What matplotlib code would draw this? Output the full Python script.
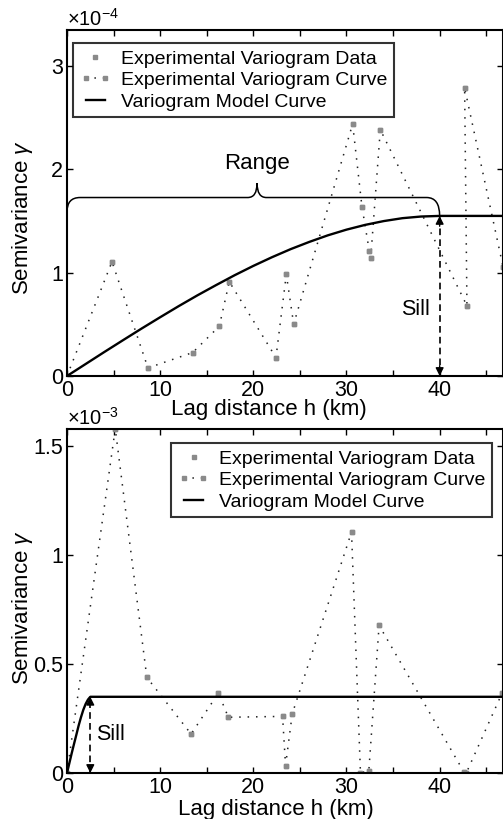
import numpy as np
import matplotlib
matplotlib.use("Agg")
import matplotlib.pyplot as plt
from matplotlib.path import Path
from matplotlib.patches import PathPatch
from matplotlib.legend_handler import HandlerLine2D
from matplotlib.ticker import MultipleLocator, FuncFormatter

plt.rcParams['font.family'] = ['Liberation Sans', 'DejaVu Sans']
plt.rcParams['mathtext.fontset'] = 'custom'
plt.rcParams['mathtext.rm'] = 'Liberation Sans'
plt.rcParams['mathtext.it'] = 'Liberation Sans:italic'

# top panel: experimental variogram (lag in km, semivariance)
lag_top = [0, 4.83, 8.69, 13.49, 16.35, 17.42, 22.43, 23.54, 24.33, 30.66,
           31.66, 32.45, 32.6, 33.63, 42.93, 42.68, 46.8]
gam_top = np.array([0, 1.107, 0.078, 0.227, 0.482, 0.913, 0.178, 0.984, 0.502,
                    2.44, 1.64, 1.21, 1.14, 2.385, 0.68, 2.79, 1.06]) * 1e-4
# top panel: model curve read along its length
model_lag_top = [0, 2, 4, 6, 8, 10, 12, 14, 16, 18, 20, 22, 24, 26, 28, 30,
                 32, 34, 36, 38, 40, 46.8]
model_gam_top = np.array([0, 0.116, 0.232, 0.346, 0.459, 0.569, 0.677, 0.781,
                          0.880, 0.976, 1.066, 1.150, 1.228, 1.298, 1.362,
                          1.417, 1.463, 1.500, 1.528, 1.544, 1.55, 1.55]) * 1e-4
sill_top = 1.55e-4
range_top = 40

# bottom panel
lag_bot = [0, 5.18, 8.57, 13.32, 16.25, 17.32, 23.14, 23.46, 24.18, 30.54,
           31.5, 32.4, 33.5, 42.6, 42.86, 46.7]
gam_bot = np.array([0, 1.581, 0.439, 0.179, 0.367, 0.256, 0.260, 0.034, 0.272,
                    1.107, 0.0, 0.011, 0.678, 0.005, 0.0, 0.367]) * 1e-3
model_lag_bot = [0, 0.25, 0.5, 0.75, 1.0, 1.25, 1.5, 1.75, 2.0, 2.25, 2.5, 46.8]
model_gam_bot = np.array([0, 0.045, 0.09, 0.133, 0.175, 0.218, 0.256, 0.29,
                          0.317, 0.337, 0.35, 0.35]) * 1e-3
sill_bot = 0.35e-3
range_bot = 2.5

labels = ['Experimental Variogram Data', 'Experimental Variogram Curve',
          'Variogram Model Curve']

W, H = 503, 819
fig = plt.figure(figsize=(W / 100, H / 100), dpi=100)
ax1 = fig.add_axes([67 / W, 1 - 376 / H, 436 / W, 346 / H])
ax2 = fig.add_axes([67 / W, 1 - 773 / H, 436 / W, 344 / H])

dot = (0, (1, 4.5))
grey = '#8a8a8a'


def draw(ax, lag, gam, mlag, mgam, scale, exp_txt):
    d, = ax.plot(lag, gam, ls='none', marker='s', ms=3.5, color=grey, mec=grey)
    c, = ax.plot(lag, gam, ls=dot, lw=1.1, color='#222222', marker='s', ms=3.5,
                 mfc=grey, mec=grey)
    m, = ax.plot(mlag, mgam, color='k', lw=1.7)
    ax.set_xlim(0, 46.8)
    ax.xaxis.set_major_locator(MultipleLocator(10))
    ax.xaxis.set_minor_locator(MultipleLocator(5))
    ax.yaxis.set_major_formatter(FuncFormatter(lambda v, p: f'{v / scale:g}'))
    ax.tick_params(which='both', direction='in', top=True, right=True,
                   length=4, width=1, labelsize=15.5, pad=3)
    for s in ax.spines.values():
        s.set_linewidth(1.5)
    ax.text(0, 1.0, exp_txt, transform=ax.transAxes, fontsize=14.5,
            ha='left', va='bottom')
    ax.set_xlabel('Lag distance h (km)', fontsize=16)
    ax.set_ylabel(r'Semivariance $\gamma$', fontsize=16)
    ax.xaxis.label.set_va('center')
    ax.yaxis.label.set_va('center')
    return d, c, m


def sill_arrow(ax, x, s, h):
    ax.plot([x, x], [0, s], color='k', lw=1.2, ls=(0, (4, 2.5)))
    ax.annotate('', xy=(x, s), xytext=(x, s - h),
                arrowprops=dict(arrowstyle='-|>', color='k', lw=1,
                                mutation_scale=12, shrinkA=0, shrinkB=0))
    ax.annotate('', xy=(x, 0), xytext=(x, h),
                arrowprops=dict(arrowstyle='-|>', color='k', lw=1,
                                mutation_scale=12, shrinkA=0, shrinkB=0))


def legend(ax, handles, **kw):
    lg = ax.legend(handles, labels, fontsize=14, frameon=True, fancybox=False,
                   handlelength=1.6, handletextpad=0.5, labelspacing=0.2,
                   borderpad=0.35, borderaxespad=0,
                   handler_map={handles[0]: HandlerLine2D(numpoints=1)},
                   numpoints=2, **kw)
    lg.get_frame().set_edgecolor('k')
    lg.get_frame().set_linewidth(1.5)


# ---- top panel
h1 = draw(ax1, lag_top, gam_top, model_lag_top, model_gam_top, 1e-4,
          r'$\times10^{-4}$')
ax1.set_ylim(0, 3.35e-4)
ax1.yaxis.set_major_locator(MultipleLocator(1e-4))
ax1.xaxis.set_label_coords(0.462, -0.098)
ax1.yaxis.set_label_coords(-0.103, 0.457)
legend(ax1, h1, loc='upper left', bbox_to_anchor=(0.014, 0.962))
sill_arrow(ax1, range_top, sill_top, 0.1e-4)
ax1.text(39.0, 0.64e-4, 'Sill', fontsize=15.5, ha='right', va='center')

# brace over the range
yb, yc = 1.728e-4, 1.867e-4
xm = 20.4
verts = [(0, 1.59e-4), (0, yb), (1.4, yb),
         (xm - 1.0, yb), (xm, yb), (xm, yc),
         (xm, yb), (xm + 1.0, yb),
         (range_top - 1.4, yb), (range_top, yb), (range_top, sill_top)]
codes = [Path.MOVETO, Path.CURVE3, Path.CURVE3,
         Path.LINETO, Path.CURVE3, Path.CURVE3,
         Path.CURVE3, Path.CURVE3,
         Path.LINETO, Path.CURVE3, Path.CURVE3]
ax1.add_patch(PathPatch(Path(verts, codes), fill=False, lw=1.1, color='k'))
ax1.text(xm, 2.06e-4, 'Range', fontsize=16, ha='center', va='center')

# ---- bottom panel
h2 = draw(ax2, lag_bot, gam_bot, model_lag_bot, model_gam_bot, 1e-3,
          r'$\times10^{-3}$')
ax2.set_ylim(0, 1.58e-3)
ax2.yaxis.set_major_locator(MultipleLocator(0.5e-3))
ax2.xaxis.set_label_coords(0.479, -0.105)
ax2.yaxis.set_label_coords(-0.103, 0.48)
legend(ax2, h2, loc='upper right', bbox_to_anchor=(0.975, 0.959))
sill_arrow(ax2, range_bot, sill_bot, 0.022e-3)
ax2.text(3.1, 0.176e-3, 'Sill', fontsize=15.5, ha='left', va='center')

fig.savefig('out.png', dpi=100)
